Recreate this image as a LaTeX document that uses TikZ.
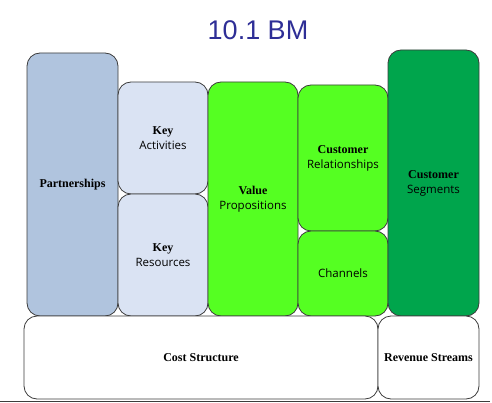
\documentclass[tikz,border=0pt]{standalone}
\usepackage{fontspec}
\setmainfont{Liberation Serif}
\newfontfamily\labsans{Open Sans}
\newfontfamily\titlesans{Liberation Sans}
\definecolor{partcol}{HTML}{B0C4DE}
\definecolor{keycol}{HTML}{DAE3F3}
\definecolor{greencol}{HTML}{55FF22}
\definecolor{segcol}{HTML}{00A54C}
\definecolor{edgecol}{HTML}{3C3C3C}
\definecolor{titlecol}{HTML}{2E2E96}
\begin{document}
\begin{tikzpicture}[x=1pt,y=1pt,
  box/.style={draw=edgecol, line width=0.8pt, rounded corners=13pt, inner sep=0pt, outer sep=0pt, align=center, font=\fontsize{12}{15}\selectfont},
]
\useasboundingbox (0,0) rectangle (492,402);
\node[text=titlecol, font=\titlesans\fontsize{27}{30}\selectfont] (title) at (258,372) {10.1 BM};
\node[box, fill=partcol, minimum width=91pt, minimum height=263pt] (part) at (72.5,217.5) {\textbf{Partnerships}};
\node[box, fill=keycol, minimum width=90pt, minimum height=112pt] (ka) at (163,264) {\textbf{Key}\\{\labsans\fontsize{11.5}{15}\selectfont Activities}};
\node[box, fill=keycol, minimum width=90pt, minimum height=122pt] (kr) at (163,147) {\textbf{Key}\\{\labsans\fontsize{11.5}{15}\selectfont Resources}};
\node[box, fill=greencol, minimum width=90pt, minimum height=234pt] (vp) at (253,203) {\textbf{Value}\\{\labsans\fontsize{11.5}{15}\selectfont Propositions}};
\node[box, fill=greencol, minimum width=90pt, minimum height=146pt] (cr) at (343,244) {\textbf{Customer}\\{\labsans\fontsize{11.5}{15}\selectfont Relationships}};
\node[box, fill=greencol, minimum width=90pt, minimum height=85pt] (ch) at (343,128.5) {\labsans\fontsize{11.5}{15}\selectfont Channels};
\node[box, fill=segcol, minimum width=91pt, minimum height=266pt] (cs) at (433.5,219) {\textbf{Customer}\\{\labsans\fontsize{11.5}{15}\selectfont Segments}};
\node[box, fill=white, minimum width=354pt, minimum height=83pt] (cost) at (201,44.5) {\textbf{Cost Structure}};
\node[box, fill=white, minimum width=101pt, minimum height=83pt] (rev) at (428.5,44.5) {\textbf{Revenue Streams}};
\coordinate (bl) at (0,1);
\coordinate (br) at (490,1);
\draw[edgecol, line width=1pt] (bl) -- (br);
\end{tikzpicture}
\end{document}
